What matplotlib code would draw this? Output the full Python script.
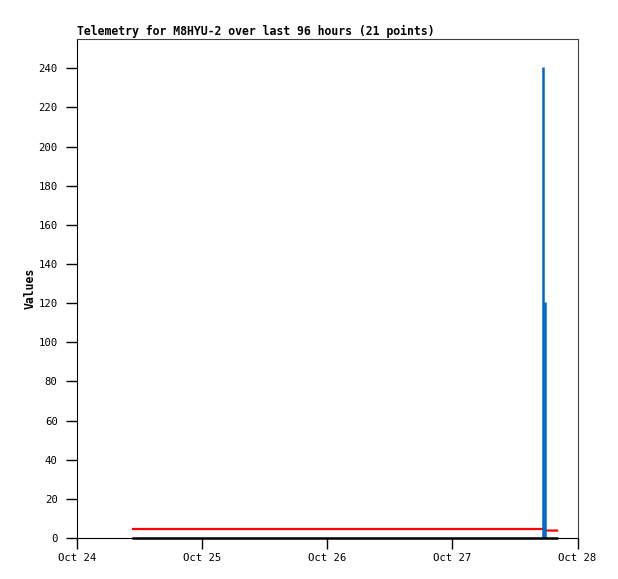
import datetime as dt
import matplotlib
matplotlib.use('Agg')
import matplotlib.pyplot as plt
import matplotlib.dates as mdates

# sample times, hours after Oct 24 00:00
hours = [10.55, 14.5, 18.25, 22, 26, 30, 34, 38, 42, 46, 50, 54, 58, 62, 66,
         70, 74, 78, 89.41, 89.76, 92.3]
red_vals = [4.6] * 19 + [3.8, 3.8]
black_vals = [0] * 21
blue_vals = [0] * 18 + [240.5, 120.7, 0]

start = dt.datetime(2024, 10, 24)
times = [start + dt.timedelta(hours=h) for h in hours]

fig = plt.figure(figsize=(6.18, 5.79), dpi=100)
ax = fig.add_axes([77 / 618, 1 - 538 / 579, 500.5 / 618, 499 / 579])

mono = 'DejaVu Sans Mono'

ax.plot(times, red_vals, color='#ff0000', lw=1.6, solid_capstyle='butt')
ax.vlines(times, 0, blue_vals, color='#0066cc', lw=1.8)
ax.plot(times, black_vals, color='black', lw=1.8, solid_capstyle='butt', clip_on=False)

ax.set_xlim(start, start + dt.timedelta(days=4))
ax.set_ylim(0, 255)
ax.set_yticks(range(0, 241, 20))
ax.xaxis.set_major_locator(mdates.DayLocator())
ax.xaxis.set_major_formatter(mdates.DateFormatter('%b %d'))

ax.tick_params(direction='out', length=8, width=1, labelsize=7.7, pad=6)
ax.tick_params(axis='x', pad=3)
for lab in ax.get_xticklabels() + ax.get_yticklabels():
    lab.set_family(mono)

for side in ['top', 'right']:
    ax.spines[side].set_color('#404040')
for side in ['left', 'bottom']:
    ax.spines[side].set_color('black')

ax.set_ylabel('Values', family=mono, fontweight='bold', fontsize=8.3, labelpad=1)
ax.set_title('Telemetry for M8HYU-2 over last 96 hours (21 points)', loc='left',
             family=mono, fontweight='bold', fontsize=8.3, pad=3)

fig.savefig('out.png', dpi=100)
